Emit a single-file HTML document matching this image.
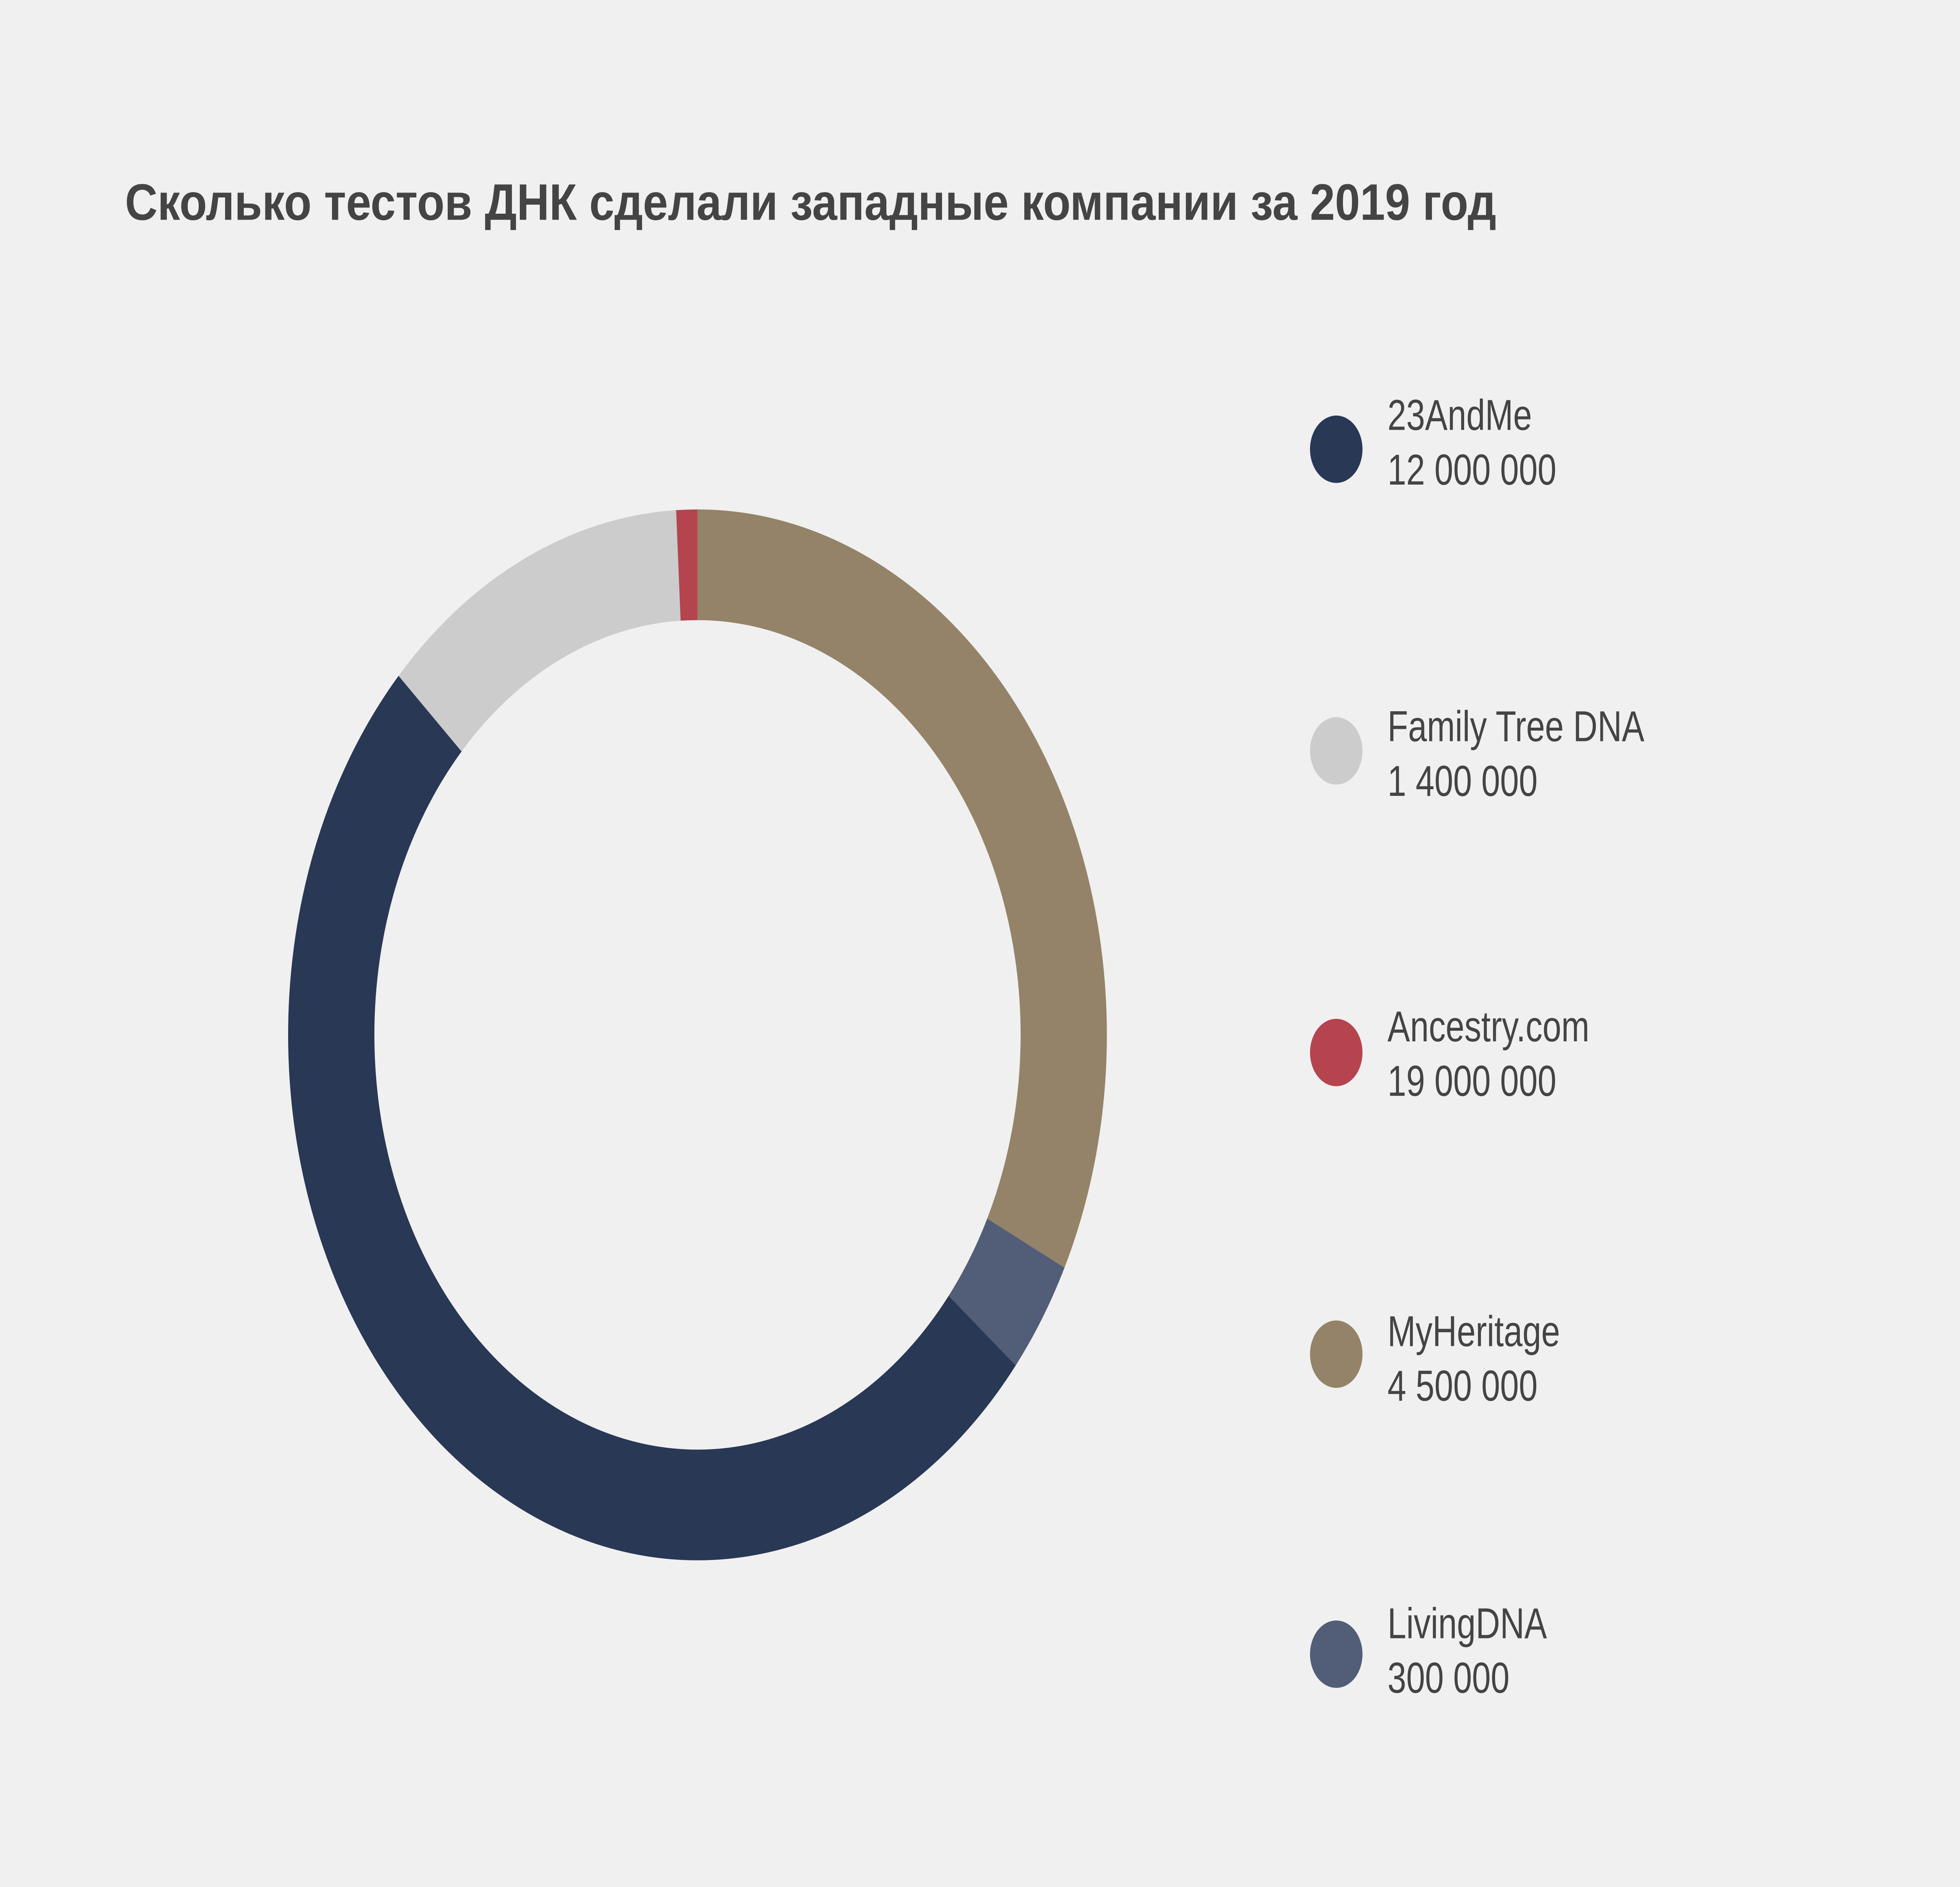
<!DOCTYPE html>
<html><head><meta charset="utf-8"><style>
html,body{margin:0;padding:0;background:#f0f0f0;width:100%;height:100%;overflow:hidden;}
svg{display:block;position:fixed;left:0;top:0;width:100vw;height:100vh;}
text{font-family:"Liberation Sans",sans-serif;fill:#444;}
</style></head><body>
<svg viewBox="0 0 1568 1176.1" preserveAspectRatio="none" xmlns="http://www.w3.org/2000/svg">
<rect width="1568" height="1176.1" fill="#f0f0f0"/>
<text x="100" y="137" font-size="32" font-weight="bold" textLength="1097" lengthAdjust="spacingAndGlyphs">Сколько тестов ДНК сделали западные компании за 2019 год</text>
<g transform="rotate(-90 558 645)" fill="none" stroke-width="69">
<circle cx="558" cy="645" r="293" stroke="#948368" stroke-dasharray="594.7 1300" stroke-dashoffset="0"/>
<circle cx="558" cy="645" r="293" stroke="#525d78" stroke-dasharray="64.9 1900" stroke-dashoffset="-594.7"/>
<circle cx="558" cy="645" r="293" stroke="#283855" stroke-dasharray="941.5 1000" stroke-dashoffset="-659.6"/>
<circle cx="558" cy="645" r="293" stroke="#cccccc" stroke-dasharray="224.5 1700" stroke-dashoffset="-1601.1"/>
<circle cx="558" cy="645" r="293" stroke="#b5444f" stroke-dasharray="15.4 1900" stroke-dashoffset="-1825.6"/>
</g>
<g font-size="27">
<circle cx="1069" cy="280" r="21" fill="#283855"/>
<text x="1110" y="268">23AndMe</text><text x="1110" y="302">12 000 000</text>
<circle cx="1069" cy="468" r="21" fill="#cccccc"/>
<text x="1110" y="462">Family Tree DNA</text><text x="1110" y="496">1 400 000</text>
<circle cx="1069" cy="656" r="21" fill="#b5444f"/>
<text x="1110" y="649">Ancestry.com</text><text x="1110" y="683">19 000 000</text>
<circle cx="1069" cy="844" r="21" fill="#948368"/>
<text x="1110" y="839">MyHeritage</text><text x="1110" y="873">4 500 000</text>
<circle cx="1069" cy="1031" r="21" fill="#525d78"/>
<text x="1110" y="1021">LivingDNA</text><text x="1110" y="1055">300 000</text>
</g>
</svg>
</body></html>
